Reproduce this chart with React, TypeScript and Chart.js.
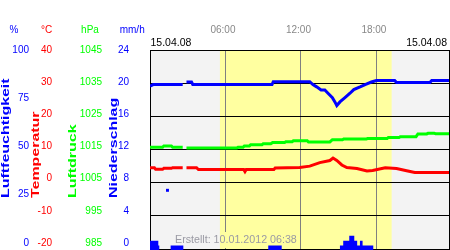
import React, { useEffect, useRef } from 'react';
import { Chart, registerables } from 'chart.js';

Chart.register(...registerables);

const FONT = "'Liberation Sans', Arial, sans-serif";

// x axis (hours of 15.04.08)
const hourMin = 0;
const hourMax = 23.77;
const hourTicks = [6, 12, 18];
const dayStart = 5.56;
const dayEnd = 19.21;

// left tick columns
const humTicks = [0, 25, 50, 75, 100];
const tempTicks = [-20, -10, 0, 10, 20, 30, 40];
const presTicks = [985, 995, 1005, 1015, 1025, 1035, 1045];
const precTicks = [0, 4, 8, 12, 16, 20, 24];
const gridTicks = [0, 1, 2, 3, 4, 5, 6];

// axis ranges
const humRange = [-3.63, 100];
const tempRange = [-22.18, 40];
const presRange = [982.82, 1045];
const precLabelRange = [-0.87, 24];
const precDataRange = [0, 24];
const gridRange = [-0.03, 6];

// texts
const units = ['%', '°C', 'hPa', 'mm/h'];
const titles = ['Luftfeuchtigkeit', 'Temperatur', 'Luftdruck', 'Niederschlag'];
const dateLeft = '15.04.08';
const dateRight = '15.04.08';
const createdText = 'Erstellt: 10.01.2012 06:38';

// Luftfeuchtigkeit (%)
const humTimes = [0, 0.25, 2.6, 2.75, 2.9, 3.3, 3.4, 6.0, 9.7, 9.8, 12.7, 12.95, 13.25, 13.6, 13.9, 14.15, 14.5, 14.7, 14.85, 15.1, 15.5, 15.9, 16.2, 16.7, 17.1, 17.6, 18.0, 19.45, 19.6, 22.25, 22.4, 23.8];
const humValues = [81.3, 82.1, 82.1, null, 83.4, 83.4, 82.1, 82.1, 82.1, 83.6, 83.6, 82.1, 80.9, 79.3, 79.3, 77.6, 75.3, 73.1, 71.2, 73.1, 75.3, 77.6, 79.5, 80.9, 82.1, 83.4, 84.2, 84.2, 83.1, 83.1, 84.2, 84.2];
const humOutlierTimes = [1.39];
const humOutlierValues = [27.3];

// Temperatur (°C)
const tempTimes = [0, 0.35, 0.45, 1.0, 1.1, 1.7, 1.8, 2.6, 2.75, 2.9, 3.7, 3.85, 7.45, 7.55, 7.65, 9.85, 9.95, 11.9, 12.7, 13.5, 14.3, 14.55, 14.85, 15.25, 15.65, 16.45, 17.25, 17.7, 18.7, 19.6, 20.4, 21.05, 23.8];
const tempValues = [3.4, 3.4, 2.9, 2.9, 3.2, 3.2, 3.4, 3.4, null, 3.4, 3.4, 2.85, 2.85, 2.2, 2.85, 2.85, 3.3, 3.45, 3.9, 5.0, 5.65, 6.4, 5.65, 4.25, 3.45, 3.15, 2.4, 2.55, 3.4, 3.15, 2.45, 1.9, 1.9];

// Luftdruck (hPa)
const presTimes = [0, 1.0, 1.1, 1.7, 1.8, 2.6, 2.75, 2.9, 6.9, 7.0, 7.4, 7.5, 7.9, 8.0, 8.9, 9.0, 9.6, 9.75, 10.7, 10.8, 11.3, 11.4, 12.5, 12.6, 14.3, 14.5, 15.3, 15.4, 17.2, 17.3, 18.85, 18.95, 19.8, 19.9, 21.15, 21.3, 22.0, 22.1, 22.6, 22.7, 23.8];
const presValues = [1014.75, 1014.75, 1015.15, 1015.15, 1014.75, 1014.75, null, 1014.5, 1014.5, 1014.75, 1014.75, 1015.15, 1015.15, 1015.55, 1015.55, 1015.85, 1015.85, 1016.25, 1016.25, 1016.5, 1016.5, 1016.8, 1016.8, 1016.4, 1016.4, 1017.1, 1017.1, 1017.35, 1017.35, 1017.45, 1017.45, 1017.8, 1017.8, 1018.05, 1018.05, 1018.9, 1018.9, 1019.1, 1019.1, 1019.0, 1019.0];

// Niederschlag (mm/h), value holds from its time to the next time
const precTimes = [0, 0.66, 0.74, 1.64, 2.65, 9.4, 10.47, 15.1, 15.36, 15.84, 16.24, 16.47, 16.69, 16.9, 17.75, 23.8];
const precValues = [1.1, 0.55, 0, 0.55, 0, 0.55, 0, 0.55, 1.1, 1.7, 1.1, 0.55, 1.1, 0.55, 0, 0];

const BLUE = '#0000ff';
const RED = '#ff0000';
const GREEN = '#00ff00';
const GRAYBG = '#f3f3f3';
const YELLOW = '#ffffa0';

const pts = (ts: number[], vs: (number | null)[]) => ts.map((t, i) => ({ x: t, y: vs[i] }));

const noPad = (s: any) => { s.paddingTop = 0; s.paddingBottom = 0; s.paddingLeft = 0; s.paddingRight = 0; };

function labelAxis(range: number[], ticks: number[], color: string, width: number, weight: number, padding: number) {
  return {
    type: 'linear',
    position: 'left',
    weight,
    min: range[0],
    max: range[1],
    grid: { display: false, drawTicks: false },
    border: { display: false },
    ticks: {
      color,
      padding,
      font: { family: FONT, size: 10 },
      callback: (v: number) => String(v),
    },
    afterBuildTicks: (s: any) => { s.ticks = ticks.map((v) => ({ value: v })); },
    afterFit: (s: any) => { s.width = width; noPad(s); },
  };
}

export default function App() {
  const ref = useRef<HTMLCanvasElement>(null);

  useEffect(() => {
    const canvas = ref.current!;

    const deco = {
      id: 'deco',
      beforeDraw(chart: any) {
        const { ctx, chartArea: a, scales } = chart;
        const x0 = Math.max(a.left, scales.x.getPixelForValue(dayStart));
        const x1 = Math.min(a.right, scales.x.getPixelForValue(dayEnd));
        ctx.save();
        ctx.fillStyle = GRAYBG;
        ctx.fillRect(a.left, a.top, a.right - a.left, a.bottom - a.top);
        ctx.fillStyle = YELLOW;
        ctx.fillRect(x0, a.top, x1 - x0, a.bottom - a.top);

        // unit headers
        ctx.font = `10px ${FONT}`;
        ctx.textBaseline = 'middle';
        ctx.textAlign = 'center';
        const unitX = [14, 46.5, 90, 132.2];
        const unitC = [BLUE, RED, GREEN, BLUE];
        units.forEach((u, i) => {
          ctx.fillStyle = unitC[i];
          ctx.fillText(u, unitX[i], 30.5);
        });

        // rotated titles
        const titleX = [8.5, 39, 76, 116.5];
        const titleC = [BLUE, RED, GREEN, BLUE];
        ctx.font = `bold 11px ${FONT}`;
        ctx.textAlign = 'left';
        ctx.textBaseline = 'alphabetic';
        titles.forEach((t, i) => {
          ctx.save();
          ctx.translate(titleX[i], 198);
          ctx.rotate(-Math.PI / 2);
          ctx.scale(1.45, 1);
          ctx.fillStyle = titleC[i];
          ctx.fillText(t, 0, 0);
          ctx.restore();
        });

        // dates
        ctx.font = `10.5px ${FONT}`;
        ctx.fillStyle = '#000';
        ctx.textBaseline = 'middle';
        ctx.textAlign = 'left';
        ctx.fillText(dateLeft, a.left + 0.5, 43.5);
        ctx.textAlign = 'right';
        ctx.fillText(dateRight, 447, 43.5);
        ctx.restore();
      },
      beforeDatasetsDraw(chart: any) {
        const { ctx, chartArea: a, scales } = chart;
        ctx.save();
        // background behind the "created" text
        ctx.font = `10.7px ${FONT}`;
        const tx = 175;
        const tw = ctx.measureText(createdText).width;
        const xs = scales.x.getPixelForValue(dayStart);
        ctx.fillStyle = GRAYBG;
        ctx.fillRect(tx, 232, Math.max(0, xs - tx), 16);
        ctx.fillStyle = YELLOW;
        ctx.fillRect(xs, 232, tx + tw - xs, 16);
        // frame
        ctx.strokeStyle = '#000';
        ctx.lineWidth = 1;
        ctx.strokeRect(a.left + 0.5, a.top + 0.5, a.right - a.left, a.bottom - 1 - a.top);
        ctx.restore();
      },
      afterDatasetsDraw(chart: any) {
        const { ctx } = chart;
        ctx.save();
        ctx.font = `10.7px ${FONT}`;
        ctx.fillStyle = '#9a9aa4';
        ctx.textAlign = 'left';
        ctx.textBaseline = 'middle';
        ctx.fillText(createdText, 175, 240.5);
        ctx.restore();
      },
    };

    const lineDs = (label: string, data: any[], color: string, axis: string) => ({
      type: 'line',
      label,
      data,
      yAxisID: axis,
      xAxisID: 'x',
      borderColor: color,
      backgroundColor: color,
      borderWidth: 3,
      pointRadius: 0,
      tension: 0,
      spanGaps: false,
      fill: false,
      borderJoinStyle: 'miter',
      borderCapStyle: 'butt',
    });

    const chart = new Chart(canvas, {
      type: 'line',
      data: {
        datasets: [
          {
            type: 'line',
            label: 'Niederschlag',
            data: pts(precTimes, precValues),
            yAxisID: 'yPrecData',
            xAxisID: 'x',
            stepped: 'before',
            borderWidth: 0,
            borderColor: 'rgba(0,0,0,0)',
            backgroundColor: BLUE,
            pointRadius: 0,
            fill: 'origin',
            clip: false,
          },
          lineDs('Luftdruck', pts(presTimes, presValues), GREEN, 'yPres'),
          lineDs('Temperatur', pts(tempTimes, tempValues), RED, 'yTemp'),
          lineDs('Luftfeuchtigkeit', pts(humTimes, humValues), BLUE, 'yHum'),
          {
            type: 'line',
            label: 'Luftfeuchtigkeit (Einzelwert)',
            data: pts(humOutlierTimes, humOutlierValues),
            yAxisID: 'yHum',
            xAxisID: 'x',
            showLine: false,
            pointStyle: 'rect',
            pointRadius: 2.1,
            pointBorderWidth: 0,
            pointBackgroundColor: BLUE,
            backgroundColor: BLUE,
          },
        ] as any,
      },
      options: {
        animation: false,
        responsive: false,
        maintainAspectRatio: false,
        events: [],
        layout: { autoPadding: false, padding: { left: 0, top: 0, right: 1, bottom: 0 } },
        plugins: { legend: { display: false }, tooltip: { enabled: false } },
        scales: {
          x: {
            type: 'linear',
            position: 'top',
            min: hourMin,
            max: hourMax,
            grid: { display: true, color: '#808080', lineWidth: 1, drawTicks: false, drawOnChartArea: true },
            border: { display: false },
            ticks: {
              color: '#888888',
              padding: 14,
              labelOffset: -2.5,
              maxRotation: 0,
              font: { family: FONT, size: 10 },
              callback: (v: number) => String(v).padStart(2, '0') + ':00',
            },
            afterBuildTicks: (s: any) => { s.ticks = hourTicks.map((v) => ({ value: v })); },
            afterFit: (s: any) => { s.height = 50; noPad(s); },
          },
          yHum: labelAxis(humRange, humTicks, BLUE, 29, 4, 0),
          yTemp: labelAxis(tempRange, tempTicks, RED, 23, 3, 0),
          yPres: labelAxis(presRange, presTicks, GREEN, 50, 2, 0),
          yPrec: labelAxis(precLabelRange, precTicks, BLUE, 48, 1, 21),
          yPrecData: { type: 'linear', display: false, min: precDataRange[0], max: precDataRange[1] },
          yGrid: {
            type: 'linear',
            position: 'right',
            min: gridRange[0],
            max: gridRange[1],
            grid: { display: true, color: '#000000', lineWidth: 1, drawTicks: false },
            border: { display: false },
            ticks: { display: false },
            afterBuildTicks: (s: any) => { s.ticks = gridTicks.map((v) => ({ value: v })); },
            afterFit: (s: any) => { s.width = 0; noPad(s); },
          },
        } as any,
      },
      plugins: [deco],
    } as any);

    return () => chart.destroy();
  }, []);

  return (
    <div style={{ position: 'fixed', left: 0, top: 0, width: 450, height: 250, background: '#fff' }}>
      <canvas ref={ref} width={450} height={250} style={{ display: 'block', width: 450, height: 250 }} />
    </div>
  );
}
